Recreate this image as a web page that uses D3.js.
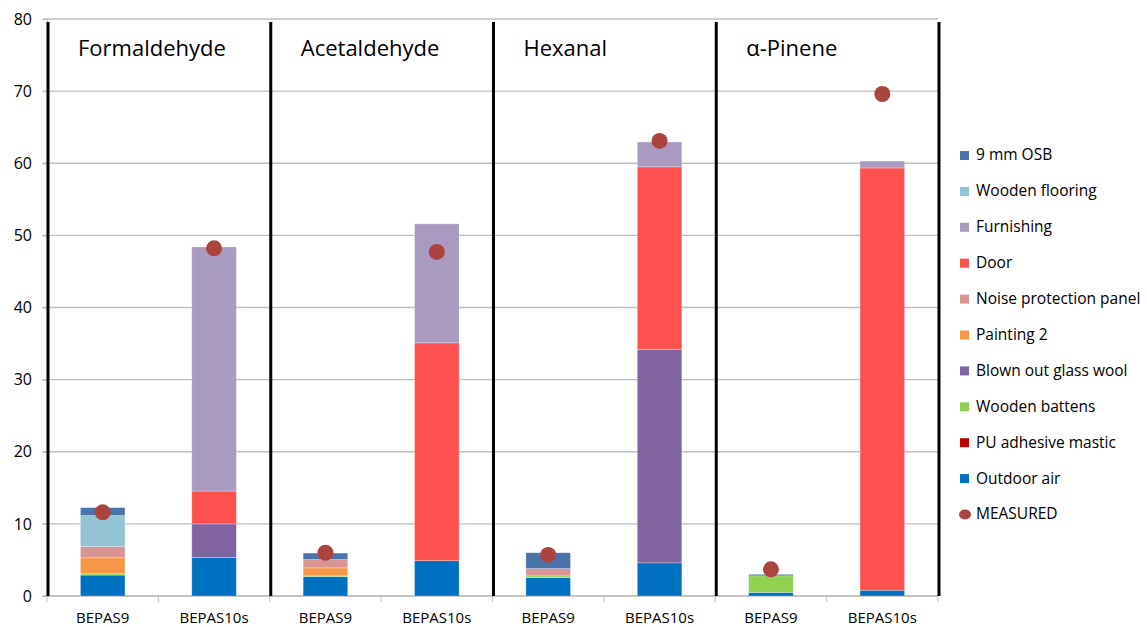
<html>
    <head>
        <title>Emission contributions</title>
        <script src="https://d3js.org/d3.v7.min.js"></script>
        <style>
            body { margin: 0; background: #fff; }
            text { font-family: "Open Sans", "Noto Sans", sans-serif; fill: #000; }
        </style>
    </head>
    <body>
        <div id="container"></div>
        <script>
            // compounds and cases
            const groups = ['Formaldehyde', 'Acetaldehyde', 'Hexanal', 'α-Pinene']
            const cases = ['BEPAS9', 'BEPAS10s']

            // one value per bar: F9, F10s, A9, A10s, H9, H10s, P9, P10s
            const outdoorAir = [2.9, 5.35, 2.7, 4.9, 2.55, 4.6, 0.5, 0.8]
            const puMastic = [0, 0, 0, 0, 0, 0, 0, 0]
            const woodenBattens = [0.2, 0, 0.1, 0, 0.25, 0, 2.3, 0]
            const glassWool = [0, 4.65, 0, 0, 0, 29.6, 0, 0]
            const painting2 = [2.2, 0, 1.1, 0, 0, 0, 0, 0]
            const noisePanel = [1.55, 0, 1.15, 0, 1.0, 0, 0, 0]
            const door = [0, 4.55, 0, 30.2, 0, 25.3, 0, 58.55]
            const furnishing = [0, 33.85, 0, 16.5, 0, 3.45, 0, 0.95]
            const woodenFlooring = [4.3, 0, 0, 0, 0, 0, 0, 0]
            const osb = [1.1, 0, 0.9, 0, 2.2, 0, 0.2, 0]
            const measured = [11.6, 48.2, 6.0, 47.7, 5.7, 63.1, 3.7, 69.6]

            const yTicks = [0, 10, 20, 30, 40, 50, 60, 70, 80]

            // stacking order, bottom to top
            const series = [
                { name: 'Outdoor air', values: outdoorAir, color: '#0070c0' },
                { name: 'PU adhesive mastic', values: puMastic, color: '#c00000' },
                { name: 'Wooden battens', values: woodenBattens, color: '#92d050' },
                { name: 'Blown out glass wool', values: glassWool, color: '#8064a2' },
                { name: 'Painting 2', values: painting2, color: '#f79646' },
                { name: 'Noise protection panel', values: noisePanel, color: '#d99594' },
                { name: 'Door', values: door, color: '#ff5050' },
                { name: 'Furnishing', values: furnishing, color: '#a89bbf' },
                { name: 'Wooden flooring', values: woodenFlooring, color: '#93c4d4' },
                { name: '9 mm OSB', values: osb, color: '#4a73a9' }
            ]
            const measuredColor = '#ab433f'

            const dimensions = { width: 1147, height: 627 }
            const plot = { left: 47, right: 938, top: 19, bottom: 596 }

            // build table rows for d3.stack
            const bars = []
            groups.forEach(g => cases.forEach(c => bars.push({ key: g + '|' + c, group: g, caseName: c })))
            bars.forEach((b, i) => series.forEach(s => { b[s.name] = s.values[i] }))

            const stacked = d3.stack().keys(series.map(s => s.name))(bars)

            const svg = d3.select('#container')
                .append('svg')
                .attr('width', dimensions.width)
                .attr('height', dimensions.height)

            const x = d3.scaleBand()
                .domain(bars.map(b => b.key))
                .range([plot.left, plot.right])
                .padding(0)

            const y = d3.scaleLinear()
                .domain([0, 80])
                .range([plot.bottom, plot.top])

            const barW = x.bandwidth() * 0.4

            // gridlines
            svg.append('g')
                .selectAll('line')
                .data(yTicks)
                .join('line')
                .attr('x1', plot.left - 4)
                .attr('x2', plot.right)
                .attr('y1', d => y(d))
                .attr('y2', d => y(d))
                .attr('stroke', '#bfbfbf')
                .attr('stroke-width', 1.3)

            // y axis
            const yAxis = svg.append('g')
                .attr('transform', `translate(${plot.left},0)`)
                .call(d3.axisLeft(y).tickValues(yTicks).tickSize(5).tickPadding(10))
            yAxis.select('.domain').attr('stroke', '#bfbfbf')
            yAxis.selectAll('.tick line').attr('stroke', '#bfbfbf')
            yAxis.selectAll('.tick text').style('font-size', '16px')

            // x axis
            const xAxis = svg.append('g')
                .attr('transform', `translate(0,${plot.bottom})`)
                .call(d3.axisBottom(x).tickSize(0).tickPadding(16).tickFormat(k => k.split('|')[1]))
            xAxis.select('.domain').remove()
            xAxis.selectAll('.tick text').style('font-size', '15px')

            // ticks between categories
            const boundaries = bars.map(b => x(b.key)).concat([plot.right])
            svg.append('line')
                .attr('x1', plot.left).attr('x2', plot.right)
                .attr('y1', plot.bottom).attr('y2', plot.bottom)
                .attr('stroke', '#bfbfbf').attr('stroke-width', 1.3)
            svg.append('g')
                .selectAll('line')
                .data(boundaries)
                .join('line')
                .attr('x1', d => d).attr('x2', d => d)
                .attr('y1', plot.bottom).attr('y2', plot.bottom + 6)
                .attr('stroke', '#bfbfbf')

            // stacked bars
            svg.append('g')
                .selectAll('g')
                .data(stacked)
                .join('g')
                .attr('fill', (d, i) => series[i].color)
                .selectAll('rect')
                .data(d => d.filter(p => p[1] - p[0] > 0))
                .join('rect')
                .attr('x', p => x(p.data.key) + (x.bandwidth() - barW) / 2)
                .attr('width', barW)
                .attr('y', p => y(p[1]))
                .attr('height', p => y(p[0]) - y(p[1]))
                .attr('stroke', '#ffffff')
                .attr('stroke-opacity', 0.35)
                .attr('stroke-width', 0.8)

            // group separators
            const groupEdges = groups.map(g => x(g + '|' + cases[0])).concat([plot.right])
            svg.append('g')
                .selectAll('line')
                .data(groupEdges)
                .join('line')
                .attr('x1', d => d + 1).attr('x2', d => d + 1)
                .attr('y1', plot.top + 3).attr('y2', plot.bottom)
                .attr('stroke', '#000')
                .attr('stroke-width', 3)

            // group titles
            svg.append('g')
                .selectAll('text')
                .data(groups)
                .join('text')
                .attr('x', g => x(g + '|' + cases[0]) + 31)
                .attr('y', 56)
                .style('font-size', '22px')
                .text(g => g)

            // measured points
            svg.append('g')
                .selectAll('circle')
                .data(measured)
                .join('circle')
                .attr('cx', (d, i) => x(bars[i].key) + x.bandwidth() / 2)
                .attr('cy', d => y(d))
                .attr('r', 8)
                .attr('fill', measuredColor)

            // legend
            const legendItems = series.slice().reverse().map(s => ({ name: s.name, color: s.color, dot: false }))
            legendItems.push({ name: 'MEASURED', color: measuredColor, dot: true })

            const legend = svg.append('g')
                .attr('transform', 'translate(960,155)')
                .selectAll('g')
                .data(legendItems)
                .join('g')
                .attr('transform', (d, i) => `translate(0,${i * 35.9})`)

            legend.filter(d => !d.dot)
                .append('rect')
                .attr('x', 0).attr('y', -4)
                .attr('width', 9).attr('height', 9)
                .attr('fill', d => d.color)
            legend.filter(d => d.dot)
                .append('ellipse')
                .attr('cx', 5).attr('cy', 0.5)
                .attr('rx', 6).attr('ry', 5)
                .attr('fill', d => d.color)
            legend.append('text')
                .attr('x', 16)
                .attr('y', 0)
                .attr('dy', '0.35em')
                .style('font-size', '15.5px')
                .text(d => d.name)
        </script>
    </body>
</html>
